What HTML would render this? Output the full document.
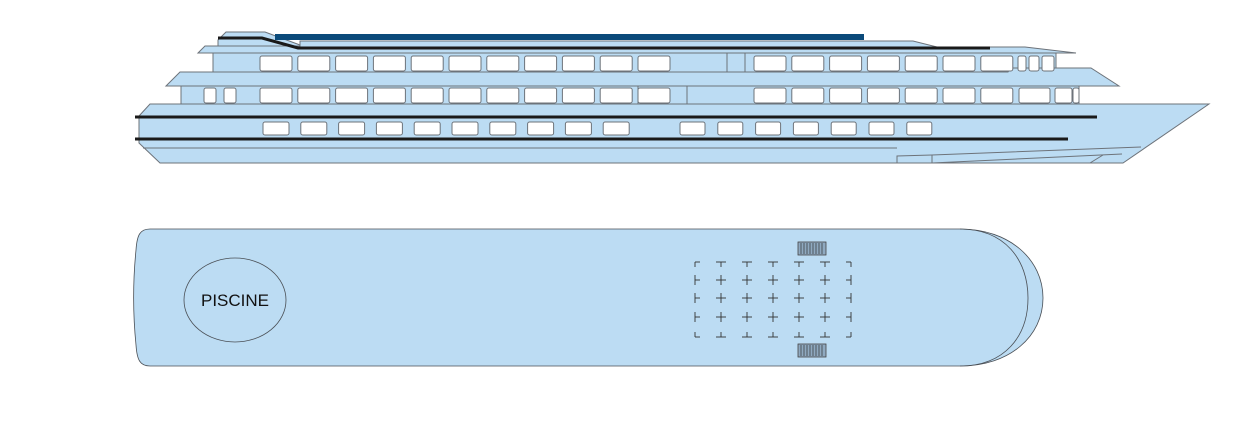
<!DOCTYPE html>
<html><head><meta charset="utf-8"><style>
html,body{margin:0;padding:0;background:#fff;width:1260px;height:428px;overflow:hidden}
svg{display:block}
</style></head><body>
<svg id="s" width="1260" height="428" viewBox="0 0 1260 428" xmlns="http://www.w3.org/2000/svg">
<g fill="#bcdcf3" stroke="#6d737a" stroke-width="1">
 <!-- funnel / top -->
 <polygon points="218,40 226,32 265,32 300,45 300,50 218,50"/>
 <rect x="275" y="34" width="589" height="6" fill="#0b4a7a" stroke="none"/>
 <!-- roof -->
 <polygon points="198,53 205,46 300,46 300,41 913,41 937,47 1025,47 1076,53"/>
 <polyline points="218,38 262,38 298,48 990,48" fill="none" stroke="#1a1a1a" stroke-width="3"/>
 <!-- upper deck -->
 <rect x="213" y="53" width="843" height="19"/>
 <!-- mid deck roof -->
 <polygon points="166,86 180,72 1008,72 1011,68 1091,68 1119,86"/>
 <!-- mid deck -->
 <rect x="181" y="86" width="898" height="18"/>
 <!-- hull -->
 <polygon points="139,116 150,104 1209,104 1123,163 160,163 139,143"/>
 <line x1="143" y1="148" x2="897" y2="148"/>
 <polyline points="897,163 897,156 932,155 1141,147" fill="none"/>
 <polyline points="932,163 932,155" fill="none"/>
 <polyline points="932,163 1122,154" fill="none"/>
 <line x1="1090" y1="163" x2="1103" y2="155"/>
 <line x1="727" y1="53" x2="727" y2="72"/><line x1="745" y1="53" x2="745" y2="72"/>
 <line x1="638" y1="86" x2="638" y2="104"/><line x1="687" y1="86" x2="687" y2="104"/>
</g>
<line x1="135" y1="117" x2="1097" y2="117" stroke="#1a1a1a" stroke-width="3"/>
<line x1="135" y1="139" x2="1068" y2="139" stroke="#1a1a1a" stroke-width="3"/>
<g id="win" fill="#fff" stroke="#6d737a" stroke-width="1"></g>

<!-- top view -->
<g fill="#bcdcf3" stroke="#4a4f55" stroke-width="0.8">
 <path d="M150,229 L960,229 C1010,229 1043,260 1043,298 C1043,336 1010,366 960,366 L150,366 C140,366 137,360 136,345 C133,315 133,280 136,250 C137,235 140,229 150,229 Z"/>
 <path d="M960,229 C1005,229 1028,260 1028,298 C1028,336 1005,366 960,366" fill="none"/>
 <ellipse cx="235" cy="300" rx="51" ry="42"/>
</g>
<text x="235" y="306" font-family="'Liberation Sans',sans-serif" font-size="17" text-anchor="middle" fill="#111">PISCINE</text>
<g id="grid" stroke="#333" stroke-width="0.9" fill="none"></g>
<g fill="#8fa9c0" stroke="#444" stroke-width="0.8">
 <rect x="798" y="242" width="28" height="13"/>
 <rect x="798" y="344" width="28" height="13"/>
</g>
<g id="stairs" stroke="#333" stroke-width="0.7"></g>
</svg>
<script>
var ns="http://www.w3.org/2000/svg";
function r(g,x,y,w,h){var e=document.createElementNS(ns,"rect");e.setAttribute("x",x);e.setAttribute("y",y);e.setAttribute("width",w);e.setAttribute("height",h);e.setAttribute("rx",2);g.appendChild(e);}
function l(g,a,b,c,d){var e=document.createElementNS(ns,"line");e.setAttribute("x1",a);e.setAttribute("y1",b);e.setAttribute("x2",c);e.setAttribute("y2",d);g.appendChild(e);}
var W=document.getElementById("win");
for(var i=0;i<11;i++){var x=260+i*37.8;r(W,x,56,32,15);r(W,x,88,32,15);}
for(var i=0;i<7;i++){var x=754+i*37.8;r(W,x,56,32,15);}
for(var i=0;i<7;i++){var x=754+i*37.8;r(W,x,88,32,15);}
r(W,1019,88,31,15);r(W,1055,88,17,15);r(W,1073,88,6,15);
r(W,1018,56,8,15);r(W,1029,56,10,15);r(W,1042,56,12,15);
r(W,204,88,12,15);r(W,224,88,12,15);
for(var i=0;i<10;i++){r(W,263+i*37.8,122,26,13);}
for(var i=0;i<7;i++){r(W,680+i*37.8,122,25,13);}
var G=document.getElementById("grid");
var xs=[695,721,747,773,799,825,851],ys=[262,280,298,317,337],s=5;
for(var i=0;i<7;i++)for(var j=0;j<5;j++){
 var x=xs[i],y=ys[j];
 var L=i>0,R=i<6,U=j>0,D=j<4;
 if(L)l(G,x-s,y,x,y); if(R)l(G,x,y,x+s,y);
 if(U)l(G,x,y-s,x,y); if(D)l(G,x,y,x,y+s);
 if(!L&&!R){}
}
var S=document.getElementById("stairs");
for(var k=0;k<8;k++){var x=801+k*3;l(S,x,243,x,254);l(S,x,345,x,356);}
</script>
</body></html>
